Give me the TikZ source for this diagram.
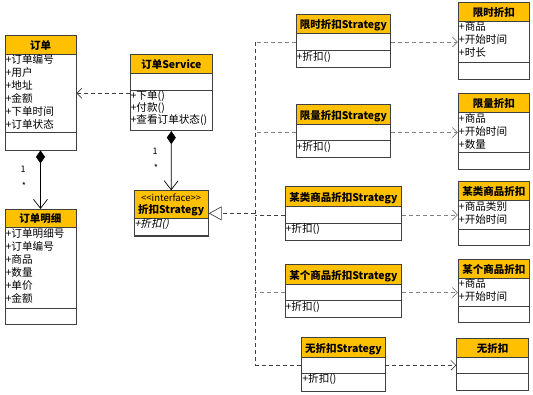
\documentclass[tikz,border=0pt]{standalone}
\usepackage{fontspec}
\setmainfont{Noto Sans CJK SC}[AutoFakeSlant=0.2]
\usetikzlibrary{
  arrows.meta, % Pfeilspitzen
  calc, % Mitte des Kopfes
  fit % Kaesten ueber Eckpunkte
}

\definecolor{gold}{HTML}{FFC000}
\definecolor{rand}{HTML}{404040}
\definecolor{strich}{HTML}{808080}

% Klasse: Name, links, oben, rechts, Kopfende, Attributende, unten, Titel, Attribute
\newcommand{\klasse}[9]{%
  \node[kopf, fit={(#2,#3) (#4,#5)}] (#1-k) {};
  \node[titel] (#1-n) at ($(#2,#5)!0.5!(#4,#5) + (0,-5)$) {#8};
  \node[fach, fit={(#2,#5) (#4,#6)}] (#1-a) {};
  \node[fach, fit={(#2,#6) (#4,#7)}] (#1-m) {};
  \node[fach, fit={(#2,#3) (#4,#7)}] (#1) {};
  \node[attr] (#1-t) at (#1-a.north west) {#9};
}

\begin{document}
\begin{tikzpicture}[
    x=1pt, y=-1pt,
    kopf/.style={draw=rand, fill=gold, line width=0.8pt, inner sep=0pt},
    titel/.style={anchor=base, inner sep=0pt, font=\fontsize{10.5}{12}\selectfont\bfseries},
    fach/.style={draw=rand, line width=0.8pt, inner sep=0pt},
    attr/.style={anchor=north west, align=left, inner sep=0.8pt,
      font=\fontsize{10.6}{13}\selectfont},
    meth/.style={attr, font=\fontsize{10.6}{12}\selectfont},
    dep/.style={strich, line width=0.7pt, dash pattern=on 4pt off 3pt},
    depdunkel/.style={dep, rand},
    pfeil/.style={-{Straight Barb[length=5pt, width=10pt]}},
    teil/.style={black, line width=0.7pt,
      {Diamond[length=13pt, width=9pt]}-{Straight Barb[length=9pt, width=14pt]}},
    zahl/.style={inner sep=0pt, font=\fontsize{9}{9}\selectfont},
  ]
  \useasboundingbox (0,0) rectangle (533,394);

  % Bestellung
  \klasse{order}{5}{35}{76}{54.3}{132.3}{150}{订单}
    {+订单编号\\+用户\\+地址\\+金额\\+下单时间\\+订单状态}
  \klasse{detail}{5}{209.3}{76}{227.7}{308.3}{324}{订单明细}
    {+订单明细号\\+订单编号\\+商品\\+数量\\+单价\\+金额}

  % Service und Interface
  \klasse{svc}{130}{54}{212.7}{73.3}{90}{130.7}{订单Service}{}
  \node[meth] (svc-t2) at (svc-m.north west) {+下单()\\+付款()\\+查看订单状态()};
  \klasse{iface}{134}{190.7}{208.3}{218.3}{236}{236}{折扣Strategy}{\itshape +折扣()}
  \node[titel, font=\fontsize{9.5}{10}\selectfont] (iface-s) at (iface-n.base |- 0,201.5) {<{}<interface>{}>};

  % Strategien
  \klasse{s1}{296}{14.3}{390.7}{33.3}{50.7}{67.3}{限时折扣Strategy}{}
  \klasse{s2}{296}{104.3}{390.7}{124.3}{140.7}{157.3}{限量折扣Strategy}{}
  \klasse{s3}{285}{186.7}{401.7}{206.7}{223.3}{240}{某类商品折扣Strategy}{}
  \klasse{s4}{285}{264}{401.7}{284.3}{300.7}{317}{某个商品折扣Strategy}{}
  \klasse{s5}{301.7}{337.7}{385}{357.3}{373.3}{391}{无折扣Strategy}{}
  \foreach \i in {1,...,5}
    \node[meth] (s\i-t2) at (s\i-m.north west) {+折扣()};

  % Rabatte
  \klasse{e1}{458.3}{2.3}{529.3}{21}{62.3}{79}{限时折扣}{+商品\\+开始时间\\+时长}
  \klasse{e2}{458.3}{93.3}{529.3}{112.7}{152.7}{169.3}{限量折扣}{+商品\\+开始时间\\+数量}
  \klasse{e3}{458.3}{181.7}{529.3}{200.7}{229}{245.7}{某类商品折扣}{+商品类别\\+开始时间}
  \klasse{e4}{458.3}{259}{529.3}{278.3}{306.7}{322.7}{某个商品折扣}{+商品\\+开始时间}
  \klasse{e5}{456.7}{338.3}{528.3}{357.3}{373.3}{390}{无折扣}{}

  % Komposition
  \draw[teil] (order.south) -- (detail.north);
  \node[zahl] (n1) at (23,169) {1};
  \node[zahl] (n2) at (24,186) {*};
  \draw[teil] (svc.south) -- (iface.north);
  \node[zahl] (n3) at (155,151) {1};
  \node[zahl] (n4) at (156,168) {*};

  % Abhaengigkeit Service -> Bestellung
  \draw[depdunkel, pfeil] (svc.west |- order-a.east) -- (order-a.east);

  % Realisierung
  \coordinate (bus) at (255,0);
  \draw[depdunkel] (s1-a.west -| bus) -- (s5-a.west -| bus);
  \foreach \i/\st in {1/dep, 2/dep, 3/depdunkel, 4/dep, 5/depdunkel}
    \draw[\st] (s\i-a.west) -- (s\i-a.west -| bus);
  \draw[depdunkel, -{Triangle[open, length=13pt, width=14pt, fill=white]}]
    (iface.east -| bus) -- (iface.east);

  % Strategie -> Rabatt
  \foreach \i/\st in {1/dep, 2/dep, 3/dep, 4/dep, 5/depdunkel}
    \draw[\st, pfeil] (s\i-a.east) -- (s\i-a.east -| e\i-a.west);
\end{tikzpicture}
\end{document}
